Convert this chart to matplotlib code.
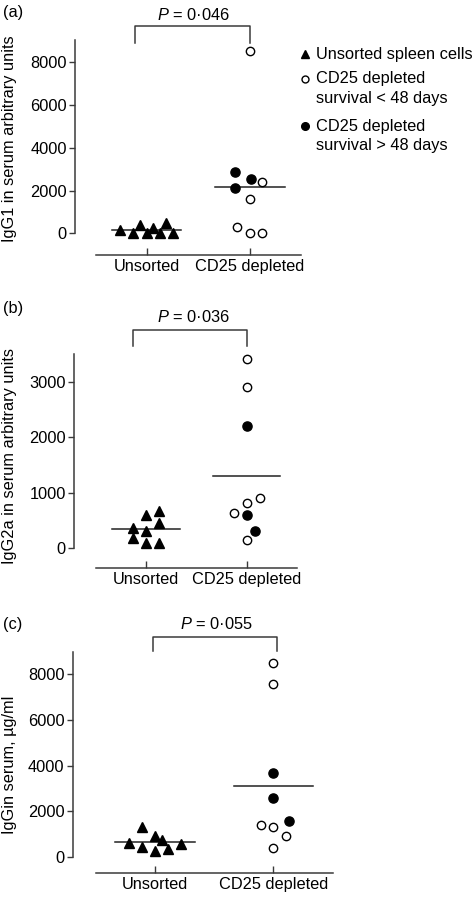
import matplotlib
matplotlib.use("Agg")
import matplotlib.pyplot as plt
import numpy as np

plt.rcParams['font.family'] = ['Liberation Sans', 'DejaVu Sans']
plt.rcParams['mathtext.fontset'] = 'custom'
plt.rcParams['mathtext.it'] = 'Liberation Sans:italic'
plt.rcParams['mathtext.rm'] = 'Liberation Sans'

W, H = 476, 897
FS = 11.8
AX_COL = '#3a3a3a'

categories = ["Unsorted", "CD25 depleted"]

# (a) IgG1, arbitrary units
a_unsorted_x = [-0.26, -0.13, -0.065, 0.0, 0.06, 0.125, 0.19, 0.25]
a_unsorted = [155, 20, 390, 0, 230, 0, 470, 30]
a_open_x = [0.0, 0.12, 0.0, -0.13, 0.0, 0.12]
a_open = [8530, 2410, 1600, 280, 0, 30]
a_filled_x = [-0.145, 0.01, -0.145]
a_filled = [2880, 2530, 2140]
a_means = [150, 2150]
a_p = "0·046"

# (b) IgG2a, arbitrary units
b_unsorted_x = [-0.13, 0.0, 0.13, 0.0, 0.13, -0.13, 0.0, 0.13]
b_unsorted = [360, 600, 670, 310, 440, 170, 80, 90]
b_open_x = [0.0, 0.0, 0.13, 0.0, -0.13, 0.0]
b_open = [3420, 2920, 900, 820, 630, 140]
b_filled_x = [0.0, 0.0, 0.08]
b_filled = [2210, 590, 300]
b_means = [340, 1300]
b_p = "0·036"

# (c) IgG, ug/ml
c_unsorted_x = [-0.22, -0.11, -0.11, 0.0, 0.056, 0.0, 0.11, 0.217]
c_unsorted = [620, 1330, 450, 920, 740, 280, 340, 570]
c_open_x = [0.0, 0.0, -0.107, 0.0, 0.107, 0.0]
c_open = [8480, 7570, 1400, 1310, 930, 410]
c_filled_x = [0.0, 0.0, 0.135]
c_filled = [3690, 2600, 1560]
c_means = [650, 3120]
c_p = "0·055"


def fx(px):
    return px / W


def fy(py):
    return 1 - py / H


fig = plt.figure(figsize=(W / 100, H / 100), dpi=100)


def panel(box, xlim, ylim, yticks, xb, ylabel, ylab_py, tag, tag_py,
          uns_x, uns, op_x, op, fi_x, fi, means, pval, bracket):
    left, top, right, bottom = box
    ax = fig.add_axes([fx(left), fy(bottom), fx(right - left), (bottom - top) / H])
    ax.set_xlim(*xlim)
    ax.set_ylim(*ylim)
    for s in ['top', 'right']:
        ax.spines[s].set_visible(False)
    ax.spines['left'].set_bounds(0, ylim[1])
    ax.spines['bottom'].set_bounds(*xb)
    for s in ['left', 'bottom']:
        ax.spines[s].set_color(AX_COL)
        ax.spines[s].set_linewidth(1.1)
    ax.set_yticks(yticks)
    ax.set_yticklabels([str(t) for t in yticks], fontsize=FS)
    ax.tick_params(axis='y', direction='out', length=4, width=1.0, color=AX_COL, pad=2)
    ax.set_xticks([0, 1])
    ax.set_xticklabels(categories, fontsize=FS)
    ax.tick_params(axis='x', direction='in', length=5, width=1.0, color=AX_COL, pad=3)

    ax.plot(np.array(uns_x), uns, ls='none', marker='^', ms=7.2, color='black',
            clip_on=False, zorder=3)
    ax.plot(1 + np.array(op_x), op, ls='none', marker='o', ms=6.0, mfc='white',
            mec='black', mew=1.0, clip_on=False, zorder=3)
    ax.plot(1 + np.array(fi_x), fi, ls='none', marker='o', ms=6.6, color='black',
            clip_on=False, zorder=3)
    for i, m in enumerate(means):
        ax.plot([i - 0.335, i + 0.335], [m, m], color='#222222', lw=1.1, zorder=2)

    # significance bracket
    bl, br, by, bend, px_, py_ = bracket
    tr = ax.get_xaxis_transform()
    ax.plot([bl, bl, br, br], [bend, by, by, bend], color=AX_COL, lw=1.1,
            transform=tr, clip_on=False)
    ax.text(px_, py_, r"$P$ = " + pval, transform=tr, ha='center', va='center',
            fontsize=FS)

    fig.text(fx(10), fy(ylab_py), ylabel, rotation=90, ha='center', va='center',
             fontsize=FS)
    fig.text(fx(3), fy(tag_py), tag, ha='left', va='center', fontsize=FS)
    return ax


ax_a = panel((75, 40, 301, 255), (-0.694, 1.494), (-1015, 9043),
             [0, 2000, 4000, 6000, 8000], (-0.49, 1.494),
             "IgG1 in serum arbitrary units", 139, "(a)", 12,
             a_unsorted_x, a_unsorted, a_open_x, a_open, a_filled_x, a_filled,
             a_means, a_p, (-0.113, 1.0, 1.065, 0.986, 0.448, 1.116))

ax_b = panel((74, 354, 296.7, 567.7), (-0.715, 1.497), (-363, 3515),
             [0, 1000, 2000, 3000], (-0.497, 1.497),
             "IgG2a in serum arbitrary units", 456, "(b)", 308,
             b_unsorted_x, b_unsorted, b_open_x, b_open, b_filled_x, b_filled,
             b_means, b_p, (-0.132, 1.0, 1.112, 1.037, 0.467, 1.173))

ax_c = panel((72.7, 652.3, 333.3, 873.3), (-0.696, 1.507), (-713, 8958),
             [0, 2000, 4000, 6000, 8000], (-0.499, 1.507),
             "IgGin serum, µg/ml", 765, "(c)", 624,
             c_unsorted_x, c_unsorted, c_open_x, c_open, c_filled_x, c_filled,
             c_means, c_p, (-0.019, 1.03, 1.071, 1.006, 0.52, 1.127))

# legend for panel (a)
leg = [
    ('^', 'black', 'black', 6.2, 54, ["Unsorted spleen cells"]),
    ('o', 'white', 'black', 5.0, 79, ["CD25 depleted", "survival < 48 days"]),
    ('o', 'black', 'black', 5.5, 126, ["CD25 depleted", "survival > 48 days"]),
]
for mk, fc, ec, ms, py, lines in leg:
    fig.add_artist(plt.Line2D([fx(305)], [fy(py)], marker=mk, ms=ms, mfc=fc,
                              mec=ec, mew=1.0, ls='none',
                              transform=fig.transFigure))
    for j, line in enumerate(lines):
        fig.text(fx(316), fy(py + 19.5 * j), line, ha='left', va='center',
                 fontsize=FS)

fig.savefig("out.png", dpi=100)
